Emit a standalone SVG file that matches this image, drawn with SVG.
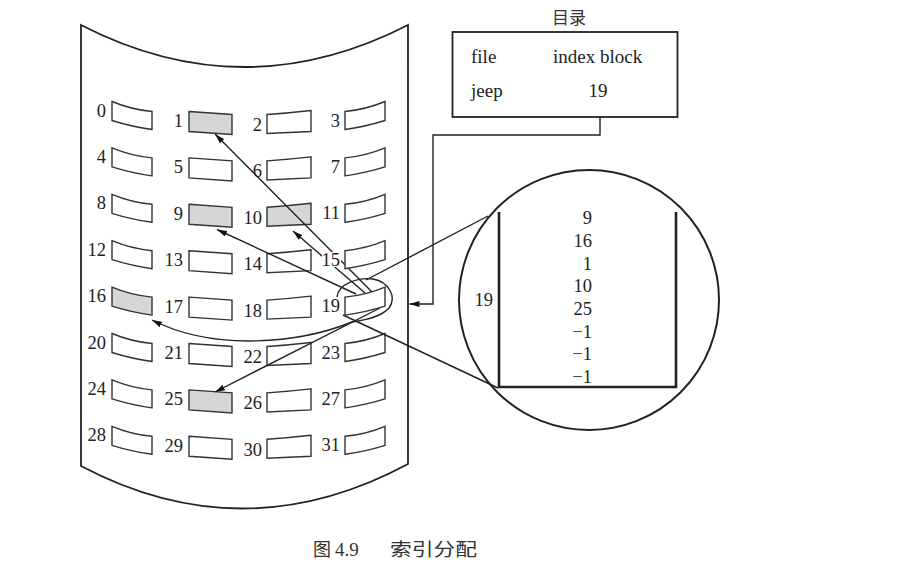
<svg xmlns="http://www.w3.org/2000/svg" xmlns:xlink="http://www.w3.org/1999/xlink" width="921" height="577" viewBox="0 0 921 577">
<style>
.t{font-family:"Liberation Serif","Times New Roman",serif;font-size:18.5px;fill:#222}
.c1,.c2,.c3,.c4{fill:#fff;stroke:#333;stroke-width:1.4}
.sh{fill:#d6d6d6}
.ln{fill:none;stroke:#222;stroke-width:1.4}
.ol{fill:none;stroke:#222;stroke-width:1.8}
.cap{font-family:"Liberation Serif","Noto Sans CJK SC",serif;font-size:18px;fill:#333}
</style>
<defs>
<path id="c1" d="M112,0 Q131,8 152,10 L152,28 Q131,25 112,19 Z"/>
<path id="c2" d="M189,10 Q210,11.5 232,13 L232,33 Q210,31.5 189,30 Z"/>
<path id="c3" d="M267,13 Q289,11.5 311,9 L311,30 Q289,31 267,32 Z"/>
<path id="c4" d="M345,10 Q366,8 385,0 L385,19 Q366,25 345,28 Z"/>
<marker id="ah" viewBox="0 0 10 6" refX="10" refY="3" markerWidth="10" markerHeight="6" markerUnits="userSpaceOnUse" orient="auto"><path d="M0,0 L10,3 L0,6 Z" fill="#111"/></marker>
</defs>
<rect width="921" height="577" fill="#fff"/>
<g id="disk">
<path class="ol" d="M81,25 Q244,109 408,25 L408,464 Q244,552 81,466 Z"/>
</g>
<g id="blocks">
<g id="b0"><use href="#c1" y="101.5" class="c1"/><text class="t" x="106" y="116.5" text-anchor="end">0</text></g>
<g id="b1"><use href="#c2" y="101.5" class="c2 sh"/><text class="t" x="183" y="127" text-anchor="end">1</text></g>
<g id="b2"><use href="#c3" y="101.5" class="c3"/><text class="t" x="262" y="131" text-anchor="end">2</text></g>
<g id="b3"><use href="#c4" y="101.5" class="c4"/><text class="t" x="340" y="126.5" text-anchor="end">3</text></g>
<g id="b4"><use href="#c1" y="147.9" class="c1"/><text class="t" x="106" y="162.9" text-anchor="end">4</text></g>
<g id="b5"><use href="#c2" y="147.9" class="c2"/><text class="t" x="183" y="173.4" text-anchor="end">5</text></g>
<g id="b6"><use href="#c3" y="147.9" class="c3"/><text class="t" x="262" y="177.4" text-anchor="end">6</text></g>
<g id="b7"><use href="#c4" y="147.9" class="c4"/><text class="t" x="340" y="172.9" text-anchor="end">7</text></g>
<g id="b8"><use href="#c1" y="194.3" class="c1"/><text class="t" x="106" y="209.3" text-anchor="end">8</text></g>
<g id="b9"><use href="#c2" y="194.3" class="c2 sh"/><text class="t" x="183" y="219.8" text-anchor="end">9</text></g>
<g id="b10"><use href="#c3" y="194.3" class="c3 sh"/><text class="t" x="262" y="223.8" text-anchor="end">10</text></g>
<g id="b11"><use href="#c4" y="194.3" class="c4"/><text class="t" x="340" y="219.3" text-anchor="end">11</text></g>
<g id="b12"><use href="#c1" y="240.7" class="c1"/><text class="t" x="106" y="255.7" text-anchor="end">12</text></g>
<g id="b13"><use href="#c2" y="240.7" class="c2"/><text class="t" x="183" y="266.2" text-anchor="end">13</text></g>
<g id="b14"><use href="#c3" y="240.7" class="c3"/><text class="t" x="262" y="270.2" text-anchor="end">14</text></g>
<g id="b16"><use href="#c1" y="287.1" class="c1 sh"/><text class="t" x="106" y="302.1" text-anchor="end">16</text></g>
<g id="b17"><use href="#c2" y="287.1" class="c2"/><text class="t" x="183" y="312.6" text-anchor="end">17</text></g>
<g id="b18"><use href="#c3" y="287.1" class="c3"/><text class="t" x="262" y="316.6" text-anchor="end">18</text></g>
<g id="b20"><use href="#c1" y="333.5" class="c1"/><text class="t" x="106" y="348.5" text-anchor="end">20</text></g>
<g id="b21"><use href="#c2" y="333.5" class="c2"/><text class="t" x="183" y="359" text-anchor="end">21</text></g>
<g id="b22"><use href="#c3" y="333.5" class="c3"/><text class="t" x="262" y="363" text-anchor="end">22</text></g>
<g id="b23"><use href="#c4" y="333.5" class="c4"/><text class="t" x="340" y="358.5" text-anchor="end">23</text></g>
<g id="b24"><use href="#c1" y="379.9" class="c1"/><text class="t" x="106" y="394.9" text-anchor="end">24</text></g>
<g id="b25"><use href="#c2" y="379.9" class="c2 sh"/><text class="t" x="183" y="405.4" text-anchor="end">25</text></g>
<g id="b26"><use href="#c3" y="379.9" class="c3"/><text class="t" x="262" y="409.4" text-anchor="end">26</text></g>
<g id="b27"><use href="#c4" y="379.9" class="c4"/><text class="t" x="340" y="404.9" text-anchor="end">27</text></g>
<g id="b28"><use href="#c1" y="426.3" class="c1"/><text class="t" x="106" y="441.3" text-anchor="end">28</text></g>
<g id="b29"><use href="#c2" y="426.3" class="c2"/><text class="t" x="183" y="451.8" text-anchor="end">29</text></g>
<g id="b30"><use href="#c3" y="426.3" class="c3"/><text class="t" x="262" y="455.8" text-anchor="end">30</text></g>
<g id="b31"><use href="#c4" y="426.3" class="c4"/><text class="t" x="340" y="451.3" text-anchor="end">31</text></g>
</g>
<g id="directory">
<text class="cap" x="569" y="24" text-anchor="middle" style="font-size:17px">目录</text>
<rect x="452.5" y="32" width="225" height="85" fill="#fff" stroke="#222" stroke-width="1.8"/>
<text class="t" x="471" y="63" style="font-size:19px">file</text>
<text class="t" x="553" y="63" style="font-size:19px">index block</text>
<text class="t" x="471" y="97" style="font-size:19px">jeep</text>
<text class="t" x="598" y="97" text-anchor="middle" style="font-size:19px">19</text>
</g>
<g id="zoom-circle">
<circle cx="589" cy="300" r="130" fill="none" stroke="#222" stroke-width="2"/>
<path d="M499,212 V387 H676 V212" fill="none" stroke="#222" stroke-width="2.6"/>
<text class="t" x="493" y="306" text-anchor="end">19</text>
<g class="t" text-anchor="end">
<text x="592" y="224">9</text>
<text x="592" y="247">16</text>
<text x="592" y="270">1</text>
<text x="592" y="292">10</text>
<text x="592" y="315">25</text>
<text x="592" y="338">−1</text>
<text x="592" y="360">−1</text>
<text x="592" y="383">−1</text>
</g>
</g>
<g id="connectors">
<path class="ln" d="M600,117 V135 H433 V304 H409.5" marker-end="url(#ah)"/>
<path class="ln" d="M366,280 L488,216"/>
<path class="ln" d="M343,315 L498,388"/>
<path class="ln" d="M372,292 L215,134" marker-end="url(#ah)"/>
<path class="ln" d="M365,293 L293,231" marker-end="url(#ah)"/>
<path class="ln" d="M356,294 L217,229.5" marker-end="url(#ah)"/>
<path class="ln" d="M380,308 L215,392" marker-end="url(#ah)"/>
<path class="ln" d="M337,297 C338,284 358,277 373,279 C389,282 397,297 389,308 C381,317 366,320 352,322 C300,343 215,352 152,320" marker-end="url(#ah)"/>
</g>
<g id="b15"><use href="#c4" y="240.7" class="c4"/><rect x="322" y="252" width="19" height="15" fill="#fff"/><text class="t" x="340" y="265.7" text-anchor="end">15</text></g>
<g id="b19"><use href="#c4" y="287.1" class="c4"/><text class="t" x="340" y="312.1" text-anchor="end">19</text></g>
<g id="caption">
<text class="cap" x="313" y="556">图</text>
<text class="cap" x="335" y="556" style="font-size:19px">4.9</text>
<text class="cap" x="390" y="556" textLength="87" lengthAdjust="spacingAndGlyphs">索引分配</text>
</g>
</svg>
